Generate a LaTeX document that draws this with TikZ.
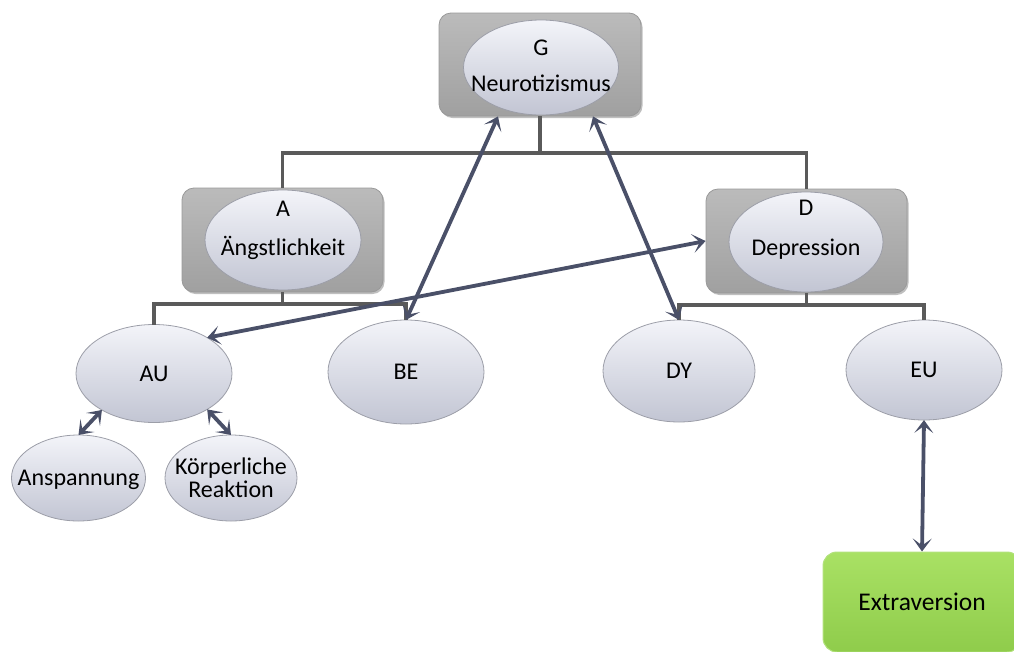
\documentclass[tikz,border=0pt]{standalone}
\usepackage{fontspec}
\setmainfont{Carlito}
\usetikzlibrary{arrows.meta,shadows,calc,shapes.geometric}

\definecolor{boxTop}{HTML}{BBBBBB}
\definecolor{boxBot}{HTML}{A0A0A0}
\definecolor{boxEdge}{HTML}{999999}
\definecolor{ellTop}{HTML}{F3F4F9}
\definecolor{ellBot}{HTML}{C2C5D3}
\definecolor{ellEdge}{HTML}{9C9EA8}
\definecolor{treeGray}{HTML}{5A5A5A}
\definecolor{linkBlue}{HTML}{4A5068}
\definecolor{greenTop}{HTML}{A9E164}
\definecolor{greenBot}{HTML}{8FCC4B}
\definecolor{greenEdge}{HTML}{B2E27C}

% zero-width text so the ellipse keeps its given size
\newcommand{\zw}[1]{\makebox[0pt]{#1}}

\begin{document}
\begin{tikzpicture}[x=1pt,y=-1pt,
  facet/.style={rounded corners=12pt, minimum width=201pt, minimum height=104pt,
    top color=boxTop, bottom color=boxBot, draw=boxEdge, line width=0.8pt,
    drop shadow={shadow xshift=1.5pt, shadow yshift=-2pt, opacity=0.25, fill=black}},
  ell/.style={ellipse, inner sep=0pt, outer sep=0pt, align=center,
    top color=ellTop, bottom color=ellBot, draw=ellEdge, line width=0.8pt,
    font=\fontsize{24}{24}\selectfont},
  one/.style={text height=15.5pt, text depth=0pt},
  txt/.style={font=\fontsize{24}{#1}\selectfont, align=center, inner sep=0pt},
  txt/.default=24,
  greenbox/.style={rounded corners=14pt, minimum width=198pt, minimum height=100pt,
    top color=greenTop, bottom color=greenBot, draw=greenEdge, line width=1pt,
    font=\fontsize{25.5}{25.5}\selectfont},
  tree/.style={draw=treeGray, line width=3.3pt},
  link/.style={draw=linkBlue, line width=3.8pt,
    {Stealth[length=13pt,width=19pt,inset=7pt]}-{Stealth[length=13pt,width=19pt,inset=7pt]}}
]
\useasboundingbox (0,0) rectangle (1014,651);
\clip (0,0) rectangle (1014,651);

% facet boxes with their inner ellipses
\node[facet, minimum width=202pt, minimum height=103pt] (Gbox) at (540,64.5) {};
\node[ell, minimum width=155pt, minimum height=95pt] (Gell) at (541,67.5) {};
\node[txt=36] (Gtxt) at (541,65.5) {G\\Neurotizismus};

\node[facet] (Abox) at (282.5,240) {};
\node[ell, minimum width=156pt, minimum height=100pt] (Aell) at (283,240) {};
\node[txt=39] (Atxt) at (283,230) {A\\Ängstlichkeit};

\node[facet] (Dbox) at (806.5,241) {};
\node[ell, minimum width=154pt, minimum height=100pt] (Dell) at (806,242) {};
\node[txt=40] (Dtxt) at (806,229.5) {D\\Depression};

% lower level ellipses
\node[ell, one, minimum width=156pt, minimum height=98pt] (AU) at (154,373.5) {\zw{AU}};
\node[ell, one, minimum width=156pt, minimum height=104pt] (BE) at (406,372) {\zw{BE}};
\node[ell, one, minimum width=152pt, minimum height=102pt] (DY) at (679,371) {\zw{DY}};
\node[ell, one, minimum width=156pt, minimum height=100pt] (EU) at (924,370) {\zw{EU}};
\node[ell, one, minimum width=134pt, minimum height=86pt] (Ansp) at (78.5,478) {\zw{Anspannung}};
\node[ell, minimum width=132pt, minimum height=86pt, font=\fontsize{24}{23}\selectfont]
  (Koerp) at (231,478) {\zw{Körperliche}\\\zw{Reaktion}};

\node[greenbox] (Extra) at (922,602) {Extraversion};

% hierarchy lines
\coordinate (Gbus) at (540,153);
\coordinate (Abus) at (282.5,304);
\coordinate (Dbus) at (806.5,305);
\draw[tree] (Gbox.south) -- (Gbus);
\draw[tree] (Abox.north) |- (Gbus) -| (Dbox.north);
\draw[tree] (Abox.south) -- (Abus);
\draw[tree] (AU.north) |- (Abus) -| (BE.north);
\draw[tree] (Dbox.south) -- (Dbus);
\draw[tree] (DY.north) |- (Dbus) -| (EU.north);

% correlations
\draw[link] (AU.34) -- (Dbox.west);
\draw[link] (BE.north) -- ([xshift=-42pt]Gbox.south);
\draw[link] ([xshift=53pt]Gbox.south) -- (DY.north);
\draw[link] (AU.215) -- (Ansp.north);
\draw[link] (AU.-34) -- (Koerp.north);
\draw[link] (EU.south) -- (Extra.north);
\end{tikzpicture}
\end{document}
